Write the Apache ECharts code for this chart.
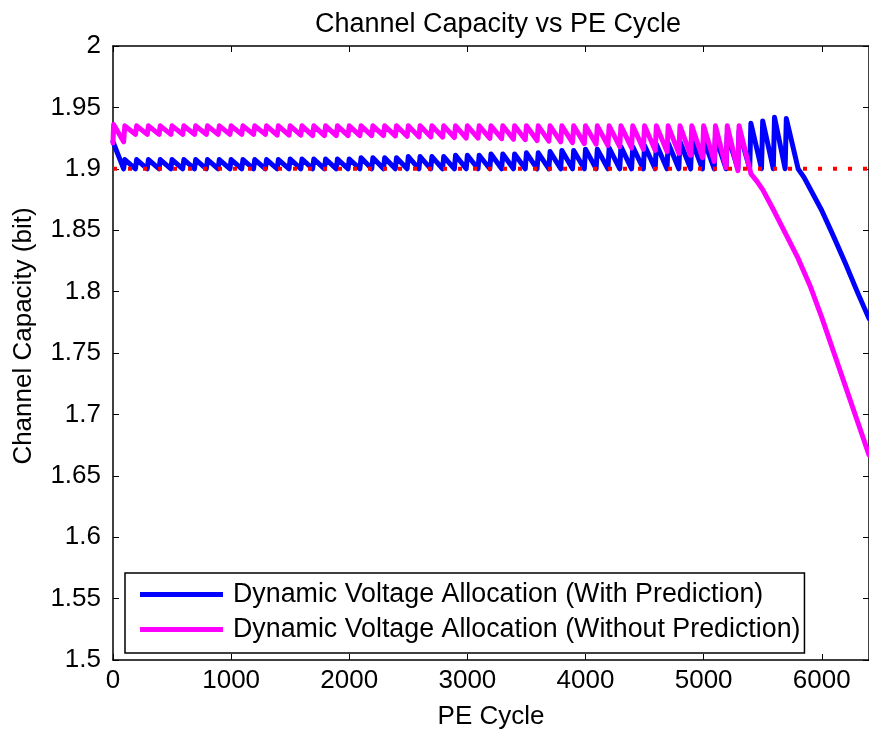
<!DOCTYPE html>
<html>
<head>
<meta charset="utf-8">
<title>Channel Capacity vs PE Cycle</title>
<script src="https://cdn.jsdelivr.net/npm/echarts@6.0.0/dist/echarts.min.js"></script>
<style>
  html, body { margin: 0; padding: 0; background: #fff; }
  #chart { width: 869px; height: 735px; }
</style>
</head>
<body>
<div id="chart"></div>
<script>
// PE cycles where the read voltages are re-allocated
let resetCycles = [100, 200, 300, 400, 500, 600, 700, 800, 900, 1000,
  1100, 1200, 1300, 1400, 1500, 1600, 1700, 1800, 1900, 2000,
  2100, 2200, 2300, 2400, 2500, 2600, 2700, 2800, 2900, 3000,
  3100, 3200, 3300, 3400, 3500, 3600, 3700, 3800, 3900, 4000,
  4100, 4200, 4300, 4400, 4500, 4600, 4700, 4800, 4900, 5000,
  5100, 5200, 5300, 5400, 5500, 5600, 5700];
let stepCycles = 10;

// with prediction (blue)
let blueStart = [[0, 1.922]];
let bluePeaks = [1.9075, 1.9075, 1.9075, 1.9075, 1.9075, 1.9075, 1.9075, 1.9075, 1.9075, 1.9075,
  1.9075, 1.9075, 1.9075, 1.9075, 1.908, 1.908, 1.908, 1.908, 1.908, 1.908,
  1.909, 1.909, 1.909, 1.909, 1.910, 1.910, 1.910, 1.910, 1.911, 1.911,
  1.911, 1.912, 1.912, 1.912, 1.913, 1.913, 1.914, 1.915, 1.915, 1.916,
  1.916, 1.917, 1.918, 1.918, 1.919, 1.920, 1.921, 1.922, 1.923, 1.924,
  1.926, 1.928, 1.931, 1.937, 1.939, 1.942, 1.941];
let blueTroughs = [1.900, 1.900, 1.900, 1.900, 1.900, 1.900, 1.900, 1.900, 1.900, 1.900,
  1.900, 1.900, 1.900, 1.900, 1.900, 1.900, 1.900, 1.900, 1.900, 1.900,
  1.900, 1.900, 1.900, 1.900, 1.900, 1.900, 1.900, 1.900, 1.900, 1.900,
  1.900, 1.900, 1.900, 1.900, 1.900, 1.900, 1.900, 1.900, 1.900, 1.900,
  1.900, 1.900, 1.900, 1.900, 1.900, 1.900, 1.900, 1.900, 1.900, 1.900,
  1.900, 1.900, 1.900, 1.900, 1.900, 1.900, 1.900];
let blueTailCycles = [5800, 5850, 6000, 6100, 6200, 6300, 6400];
let blueTailValues = [1.900, 1.893, 1.866, 1.845, 1.823, 1.800, 1.778];

// without prediction (magenta)
let pinkStart = [[0, 1.921], [5, 1.936]];
let pinkPeaks = [1.935, 1.935, 1.935, 1.935, 1.935, 1.935, 1.935, 1.935, 1.935, 1.935,
  1.935, 1.935, 1.935, 1.935, 1.935, 1.935, 1.935, 1.935, 1.935, 1.935,
  1.935, 1.935, 1.935, 1.935, 1.935, 1.935, 1.935, 1.935, 1.935, 1.935,
  1.935, 1.935, 1.935, 1.935, 1.935, 1.935, 1.935, 1.935, 1.935, 1.935,
  1.935, 1.935, 1.935, 1.935, 1.935, 1.935, 1.935, 1.935, 1.935, 1.935,
  1.935, 1.935, 1.935];
let pinkTroughs = [1.922, 1.928, 1.928, 1.928, 1.928, 1.928, 1.928, 1.928, 1.928, 1.928,
  1.928, 1.928, 1.928, 1.9275, 1.9275, 1.9275, 1.927, 1.927, 1.927, 1.927,
  1.927, 1.927, 1.927, 1.9268, 1.9265, 1.926, 1.926, 1.9258, 1.9255, 1.925,
  1.925, 1.9248, 1.9245, 1.924, 1.9237, 1.923, 1.9225, 1.922, 1.9213, 1.9205,
  1.920, 1.919, 1.918, 1.917, 1.916, 1.915, 1.914, 1.9125, 1.911, 1.909,
  1.906, 1.901, 1.8985];
let pinkTailCycles = [5400, 5450, 5500, 5600, 5700, 5800, 5900, 6000, 6100, 6200, 6300, 6400];
let pinkTailValues = [1.896, 1.890, 1.883, 1.865, 1.846, 1.827, 1.805, 1.779, 1.751, 1.723, 1.695, 1.667];

// capacity requirement
let thresholdCycles = [0, 6400];
let thresholdValues = [1.9, 1.9];

let seriesNames = ['Dynamic Voltage Allocation (With Prediction)',
  'Dynamic Voltage Allocation (Without Prediction)'];

function buildCurve(start, peaks, troughs, tailX, tailY) {
  let pts = start.slice();
  peaks.forEach(function (p, i) {
    pts.push([resetCycles[i] - stepCycles, troughs[i]]);
    pts.push([resetCycles[i], p]);
  });
  tailX.forEach(function (x, i) {
    pts.push([x, tailY[i]]);
  });
  return pts;
}

let font = '"Liberation Sans", Arial, Helvetica, sans-serif';
let fs = 26;

let axisLine = { show: true, onZero: false, lineStyle: { color: '#000', width: 1.5 } };
let axisTick = { show: true, inside: true, length: 6, lineStyle: { color: '#000', width: 1 } };

let myChart = echarts.init(document.getElementById('chart'));
let option = {
  animation: false,
  backgroundColor: '#fff',
  textStyle: { fontFamily: font },
  title: {
    text: 'Channel Capacity vs PE Cycle',
    left: 493,
    top: 6,
    textAlign: 'center',
    textStyle: { fontFamily: font, fontSize: 27, fontWeight: 'normal', color: '#000' }
  },
  grid: { left: 113, top: 46, right: -2, bottom: 72 },
  legend: {
    data: seriesNames,
    orient: 'vertical',
    left: 125,
    top: 573,
    icon: 'rect',
    itemWidth: 83,
    itemHeight: 5,
    itemGap: 8,
    padding: [8, 4, 10, 15],
    borderColor: '#000',
    borderWidth: 1.5,
    borderRadius: 0,
    backgroundColor: '#fff',
    textStyle: { fontFamily: font, fontSize: 26.8, lineHeight: 26, color: '#000', padding: [0, 0, 0, 5] }
  },
  xAxis: [{
    type: 'value',
    min: 0,
    max: 6400,
    interval: 1000,
    name: 'PE Cycle',
    nameLocation: 'middle',
    nameGap: 44,
    nameTextStyle: { fontFamily: font, fontSize: fs, color: '#000' },
    axisLine: axisLine,
    axisTick: axisTick,
    splitLine: { show: false },
    axisLabel: {
      margin: 8, color: '#000', fontFamily: font, fontSize: fs, showMaxLabel: false,
      formatter: function (v) { return String(v); }
    }
  }, {
    type: 'value',
    position: 'top',
    min: 0,
    max: 6400,
    interval: 1000,
    axisLine: axisLine,
    axisTick: axisTick,
    splitLine: { show: false },
    axisLabel: { show: false }
  }],
  yAxis: [{
    type: 'value',
    min: 1.5,
    max: 2,
    interval: 0.05,
    name: 'Channel Capacity (bit)',
    nameLocation: 'middle',
    nameGap: 76,
    nameTextStyle: { fontFamily: font, fontSize: fs, color: '#000', padding: [0, 0, 0, 34] },
    axisLine: axisLine,
    axisTick: axisTick,
    splitLine: { show: false },
    axisLabel: { margin: 12, color: '#000', fontFamily: font, fontSize: fs }
  }, {
    type: 'value',
    position: 'right',
    min: 1.5,
    max: 2,
    interval: 0.05,
    axisLine: axisLine,
    axisTick: axisTick,
    splitLine: { show: false },
    axisLabel: { show: false }
  }],
  series: [
    {
      name: seriesNames[0],
      type: 'line',
      symbol: 'none',
      color: '#0000ff',
      lineStyle: { color: '#0000ff', width: 5, join: 'round', cap: 'round' },
      data: buildCurve(blueStart, bluePeaks, blueTroughs, blueTailCycles, blueTailValues)
    },
    {
      name: seriesNames[1],
      type: 'line',
      symbol: 'none',
      color: '#ff00ff',
      lineStyle: { color: '#ff00ff', width: 5, join: 'round', cap: 'round' },
      data: buildCurve(pinkStart, pinkPeaks, pinkTroughs, pinkTailCycles, pinkTailValues)
    },
    {
      name: 'threshold',
      type: 'line',
      symbol: 'none',
      color: '#ff0000',
      lineStyle: { color: '#ff0000', width: 4, type: [4, 11], cap: 'butt' },
      data: thresholdCycles.map(function (x, i) { return [x, thresholdValues[i]]; })
    }
  ]
};
myChart.setOption(option);
</script>
</body>
</html>
